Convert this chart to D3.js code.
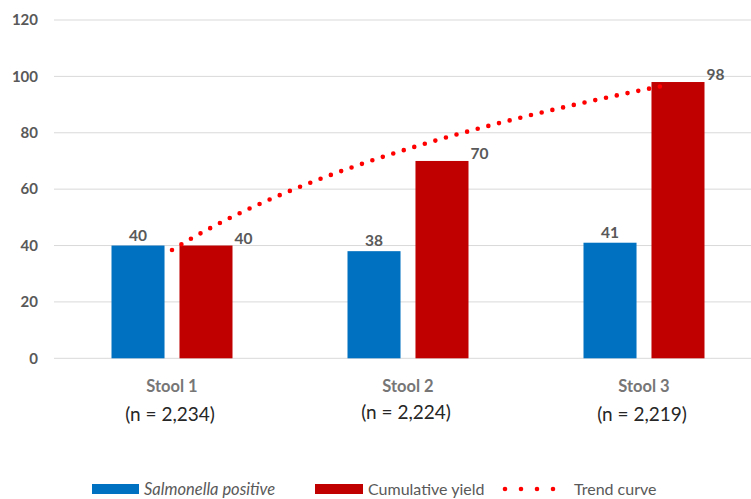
<!DOCTYPE html>
<html>
<head>
<meta charset="utf-8">
<script src="https://cdn.jsdelivr.net/npm/d3@7"></script>
<style>
  body { margin: 0; background: #fff; }
  svg { display: block; font-family: Lato, "Open Sans", sans-serif; }
</style>
</head>
<body>
<script>
// data
var categories = ["Stool 1", "Stool 2", "Stool 3"];
var sampleSizes = ["(n = 2,234)", "(n = 2,224)", "(n = 2,219)"];
var salmonellaPositive = [40, 38, 41];
var cumulativeYield = [40, 70, 98];
var yTicks = [0, 20, 40, 60, 80, 100, 120];
var seriesNames = ["Salmonella positive", "Cumulative yield"];

var width = 751,
  height = 499;

var svg = d3
  .select("body")
  .append("svg")
  .attr("width", width)
  .attr("height", height);

var x = d3.scaleBand().domain(categories).range([54, 762]).padding(0);
var xInner = d3
  .scaleBand()
  .domain(seriesNames)
  .range([-60.5, 60.5])
  .paddingInner(0.22);
var y = d3.scaleLinear().domain([0, 120]).range([358.3, 20]);

var colors = { "Salmonella positive": "#0070c0", "Cumulative yield": "#c00000" };

// gridlines
svg
  .append("g")
  .selectAll("line")
  .data(yTicks)
  .enter()
  .append("line")
  .attr("x1", 54)
  .attr("x2", width)
  .attr("y1", function (d) {
    return y(d);
  })
  .attr("y2", function (d) {
    return y(d);
  })
  .style("stroke", "#d9d9d9")
  .style("stroke-width", 1);

// y tick labels
svg
  .append("g")
  .selectAll("text")
  .data(yTicks)
  .enter()
  .append("text")
  .attr("x", 38)
  .attr("y", function (d) {
    return y(d);
  })
  .attr("dy", "0.35em")
  .attr("text-anchor", "end")
  .style("font-size", "15px")
  .style("font-weight", "bold")
  .style("fill", "#595959")
  .text(function (d) {
    return d;
  });

// bars
var rows = categories.map(function (c, i) {
  return {
    cat: c,
    values: [
      { series: seriesNames[0], value: salmonellaPositive[i] },
      { series: seriesNames[1], value: cumulativeYield[i] },
    ],
  };
});

var groups = svg
  .append("g")
  .selectAll("g")
  .data(rows)
  .enter()
  .append("g")
  .attr("transform", function (d) {
    return "translate(" + (x(d.cat) + x.bandwidth() / 2) + ",0)";
  });

groups
  .selectAll("rect")
  .data(function (d) {
    return d.values;
  })
  .enter()
  .append("rect")
  .attr("x", function (d) {
    return xInner(d.series);
  })
  .attr("width", xInner.bandwidth())
  .attr("y", function (d) {
    return y(d.value);
  })
  .attr("height", function (d) {
    return y(0) - y(d.value);
  })
  .style("fill", function (d) {
    return colors[d.series];
  });

// value labels: blue centred above, red offset to the upper right
groups
  .selectAll("text.val")
  .data(function (d) {
    return d.values;
  })
  .enter()
  .append("text")
  .attr("class", "val")
  .attr("x", function (d, i) {
    return i === 0
      ? xInner(d.series) + xInner.bandwidth() / 2
      : xInner(d.series) + xInner.bandwidth() + 11;
  })
  .attr("y", function (d, i) {
    return i === 0 ? y(d.value) - 5 : y(d.value) - 2;
  })
  .attr("text-anchor", "middle")
  .style("font-size", "15.5px")
  .style("font-weight", "bold")
  .style("fill", "#595959")
  .text(function (d) {
    return d.value;
  });

// category labels
groups
  .append("text")
  .attr("x", 0)
  .attr("y", 392)
  .attr("text-anchor", "middle")
  .style("font-size", "16.5px")
  .style("font-weight", "bold")
  .style("fill", "#767676")
  .text(function (d) {
    return d.cat;
  });

groups
  .append("text")
  .attr("x", -2)
  .attr("y", function (d, i) {
    return i === 1 ? 419 : 421;
  })
  .attr("text-anchor", "middle")
  .style("font-size", "19px")
  .style("fill", "#262626")
  .text(function (d, i) {
    return sampleSizes[i];
  });

// logarithmic trend curve fitted to the cumulative yield
var lx = cumulativeYield.map(function (d, i) {
  return Math.log(i + 1);
});
var mx = d3.mean(lx),
  my = d3.mean(cumulativeYield);
var b =
  d3.sum(lx, function (v, i) {
    return (v - mx) * (cumulativeYield[i] - my);
  }) /
  d3.sum(lx, function (v) {
    return (v - mx) * (v - mx);
  });
var a = my - b * mx;

var step = x.step();
var tx = d3
  .scaleLinear()
  .domain([1, 2])
  .range([
    x(categories[0]) + x.bandwidth() / 2,
    x(categories[0]) + x.bandwidth() / 2 + step,
  ]);

var trendPts = d3.range(1, 3.0801, 0.02).map(function (t) {
  return [tx(t), y(a + b * Math.log(t))];
});

svg
  .append("path")
  .attr("d", d3.line()(trendPts))
  .style("fill", "none")
  .style("stroke", "#ff0000")
  .style("stroke-width", 4.6)
  .style("stroke-linecap", "round")
  .style("stroke-dasharray", "0 11");

// legend
var legend = svg.append("g").attr("transform", "translate(0,489)");

legend
  .append("rect")
  .attr("x", 92)
  .attr("y", -5)
  .attr("width", 47)
  .attr("height", 10)
  .style("fill", colors[seriesNames[0]]);
legend
  .append("text")
  .attr("x", 144)
  .attr("dy", "0.35em")
  .style("font-size", "16.5px")
  .style("font-style", "italic")
  .style("fill", "#595959")
  .text(seriesNames[0]);

legend
  .append("rect")
  .attr("x", 315)
  .attr("y", -5)
  .attr("width", 48)
  .attr("height", 10)
  .style("fill", colors[seriesNames[1]]);
legend
  .append("text")
  .attr("x", 368)
  .attr("dy", "0.35em")
  .style("font-size", "16px")
  .style("fill", "#595959")
  .text(seriesNames[1]);

legend
  .append("line")
  .attr("x1", 505)
  .attr("x2", 569)
  .attr("y1", 0)
  .attr("y2", 0)
  .style("stroke", "#ff0000")
  .style("stroke-width", 4.6)
  .style("stroke-linecap", "round")
  .style("stroke-dasharray", "0 16");
legend
  .append("text")
  .attr("x", 574)
  .attr("dy", "0.35em")
  .style("font-size", "16px")
  .style("fill", "#595959")
  .text("Trend curve");
</script>
</body>
</html>
